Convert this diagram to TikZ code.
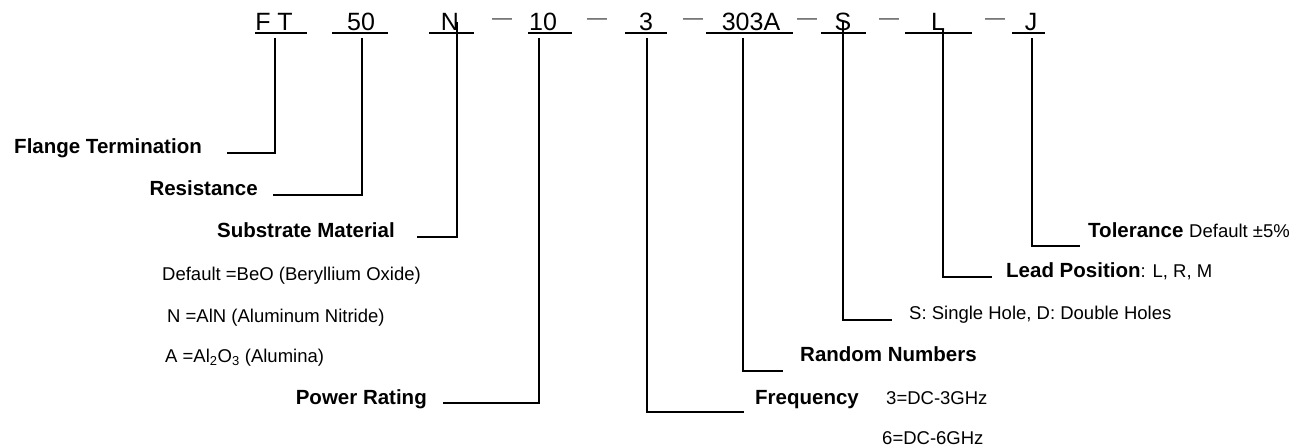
\documentclass[tikz,border=0pt]{standalone}
\usepackage{fontspec}
\setmainfont{Liberation Sans}
\begin{document}
\begin{tikzpicture}[
  x = 1pt, y = -1pt,
  every node/.style = {inner sep = 0pt},
  code/.style = {font = \fontsize{25}{30}\selectfont, anchor = base},
  sep/.style = {font = \fontsize{20}{24}\selectfont, text = black!70, anchor = base},
  lbl/.style = {font = \fontsize{20.5}{24}\selectfont\bfseries},
  note/.style = {font = \fontsize{18.5}{22}\selectfont, anchor = base west},
  leader/.style = {line width = 1.5pt}
  ]
  \useasboundingbox (0,0) rectangle (1305,447);

  %part number
  \node[code] (ft)   at (274,30)  {F T};
  \node[code] (res)  at (361,30)  {50};
  \node[code] (mat)  at (450,30)  {N};
  \node[code] (pwr)  at (543,30)  {10};
  \node[code] (frq)  at (646,30)  {3};
  \node[code] (rnd)  at (751,30)  {303A};
  \node[code] (hole) at (843,30)  {S};
  \node[code] (pos)  at (938,30)  {L};
  \node[code] (tol)  at (1031,30) {J};

  \foreach \a/\b in {255/307, 332/388, 429/474, 528/572, 625/667,
                     706/793, 821/866, 905/972, 1012/1045}
    \draw[leader] (\a,33) -- (\b,33);

  \foreach \x [count=\i] in {502, 597, 693, 807, 889, 995}
    \node[sep] (d\i) at (\x,24.5) {—};

  %left side
  \coordinate (ft-t) at (275,38);  \coordinate (ft-e) at (227,153);
  \draw[leader] (ft-t) |- (ft-e);
  \node[lbl, anchor = base east] (flange) at (202,153) {Flange Termination};

  \coordinate (res-t) at (362,38);  \coordinate (res-e) at (273,195);
  \draw[leader] (res-t) |- (res-e);
  \node[lbl, anchor = base east] (resist) at (258,195) {Resistance};

  \coordinate (mat-t) at (457,22);  \coordinate (mat-e) at (417,237);
  \draw[leader] (mat-t) |- (mat-e);
  \node[lbl, anchor = base east] (subst) at (395,237) {Substrate Material};
  \node[note] (beo) at (162,280) {Default =BeO (Beryllium Oxide)};
  \node[note] (aln) at (167,322) {N =AlN (Aluminum Nitride)};
  \node[note] (alo) at (165,362) {A =Al\textsubscript{2}O\textsubscript{3} (Alumina)};

  \coordinate (pwr-t) at (539,38);  \coordinate (pwr-e) at (443,403);
  \draw[leader] (pwr-t) |- (pwr-e);
  \node[lbl, anchor = base east] (power) at (427,404) {Power Rating};

  %right side
  \coordinate (frq-t) at (647,38);  \coordinate (frq-e) at (744,412);
  \draw[leader] (frq-t) |- (frq-e);
  \node[lbl, anchor = base west] (freq) at (755,404) {Frequency};
  \node[note] (f3) at (886,404) {3=DC-3GHz};
  \node[note] (f6) at (882,444) {6=DC-6GHz};

  \coordinate (rnd-t) at (743,38);  \coordinate (rnd-e) at (783,371);
  \draw[leader] (rnd-t) |- (rnd-e);
  \node[lbl, anchor = base west] (random) at (800,361) {Random Numbers};

  \coordinate (hole-t) at (843,22);  \coordinate (hole-e) at (892,320);
  \draw[leader] (hole-t) |- (hole-e);
  \node[note] (holes) at (909,319) {S: Single Hole, D: Double Holes};

  \coordinate (pos-t) at (943,30);  \coordinate (pos-e) at (992,277);
  \draw[leader] (pos-t) |- (pos-e);
  \node[lbl, anchor = base west] (lead) at (1006,277)
    {Lead Position\mdseries\fontsize{18.5}{22}\selectfont: L, R, M};

  \coordinate (tol-t) at (1032,38);  \coordinate (tol-e) at (1080,246);
  \draw[leader] (tol-t) |- (tol-e);
  \node[lbl, anchor = base west] (toler) at (1088,237)
    {Tolerance \mdseries\fontsize{18.5}{22}\selectfont Default ±5\%};
\end{tikzpicture}
\end{document}
